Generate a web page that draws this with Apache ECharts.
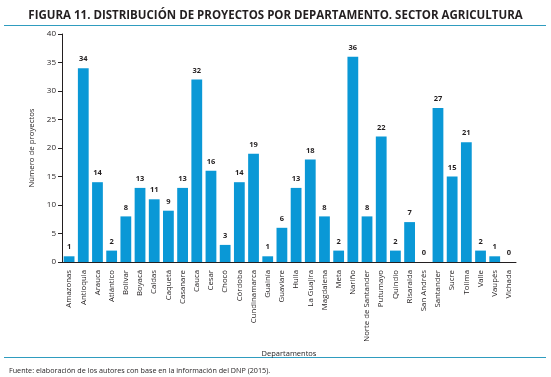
<!DOCTYPE html>
<html><head><meta charset="utf-8">
<script src="https://cdn.jsdelivr.net/npm/echarts@6/dist/echarts.min.js"></script>
<style>html,body{margin:0;padding:0;background:#fff}#c{width:551px;height:377px}</style>
</head><body><div id="c"></div>
<script>
const categories = ["Amazonas","Antioquia","Arauca","Atlántico","Bolívar","Boyacá","Caldas","Caquetá","Casanare","Cauca","Cesar","Chocó","Córdoba","Cundinamarca","Guainía","Guaviare","Huila","La Guajira","Magdalena","Meta","Nariño","Norte de Santander","Putumayo","Quindío","Risaralda","San Andrés","Santander","Sucre","Tolima","Valle","Vaupés","Vichada"];
const proyectos = [1,34,14,2,8,13,11,9,13,32,16,3,14,19,1,6,13,18,8,2,36,8,22,2,7,0,27,15,21,2,1,0];
const yTicks = [0,5,10,15,20,25,30,35,40];
const titleText = "FIGURA 11. DISTRIBUCIÓN DE PROYECTOS POR DEPARTAMENTO. SECTOR AGRICULTURA";
const sourceText = "Fuente: elaboración de los autores con base en la información del DNP (2015).";

const font = "'Open Sans',sans-serif";
const chart = echarts.init(document.getElementById('c'), null, {renderer:'canvas'});
chart.setOption({
  animation:false,
  textStyle:{fontFamily:font},
  title:[
    {text:titleText,left:'center',top:5,textStyle:{fontFamily:font,fontSize:11.5,fontWeight:'bold',color:'#231f20'}},
    {text:sourceText,left:4,top:362,textStyle:{fontFamily:font,fontSize:7.2,fontWeight:'normal',color:'#231f20'}}
  ],
  graphic:[
    {type:'line',shape:{x1:4,y1:25.5,x2:546,y2:25.5},style:{stroke:'#2f9cbf',lineWidth:1.2}},
    {type:'line',shape:{x1:4,y1:357.5,x2:546,y2:357.5},style:{stroke:'#2f9cbf',lineWidth:1.2}}
  ],
  grid:{left:62,right:35,top:34,bottom:115},
  xAxis:{
    type:'category',data:categories,
    name:'Departamentos',nameLocation:'middle',nameGap:84,
    nameTextStyle:{fontFamily:font,fontSize:7.5,color:'#231f20'},
    axisLine:{lineStyle:{color:'#231f20',width:1}},
    axisTick:{length:6,lineStyle:{color:'#231f20'}},
    axisLabel:{rotate:90,interval:0,fontSize:7.8,color:'#231f20',margin:8,fontFamily:font}
  },
  yAxis:{
    type:'value',min:0,max:40,interval:5,
    name:'Número de proyectos',nameLocation:'middle',nameGap:26,
    nameTextStyle:{fontFamily:font,fontSize:7.8,color:'#231f20'},
    axisLine:{show:true,lineStyle:{color:'#231f20',width:1}},
    axisTick:{show:true,length:4,lineStyle:{color:'#231f20'}},
    axisLabel:{fontSize:8,color:'#231f20',margin:6,fontFamily:font,
      formatter:v=>yTicks.includes(v)?String(v):''},
    splitLine:{show:false}
  },
  series:[{
    type:'bar',data:proyectos,barCategoryGap:'24%',
    itemStyle:{color:'#0a98d6'},
    label:{show:true,position:'top',fontSize:7.5,fontWeight:'bold',color:'#231f20',distance:5,fontFamily:font}
  }]
});
</script></body></html>
